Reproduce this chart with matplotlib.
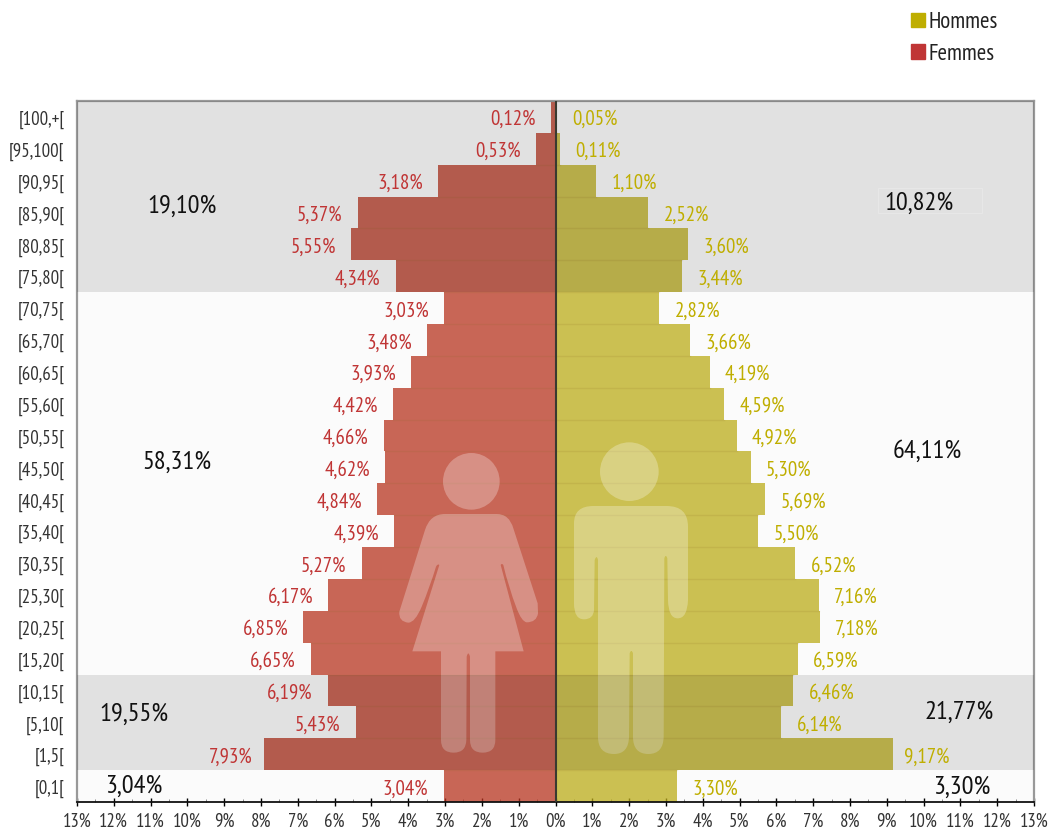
import matplotlib
matplotlib.use('Agg')
import logging
import matplotlib.pyplot as plt
from matplotlib.patches import Ellipse, Patch, PathPatch, Rectangle
from matplotlib.path import Path
from matplotlib.ticker import FuncFormatter, MultipleLocator
from matplotlib.transforms import ScaledTranslation

# narrow face if present, otherwise something that certainly is
logging.getLogger('matplotlib.font_manager').setLevel(logging.ERROR)
plt.rcParams['font.family'] = ['PT Sans Narrow', 'Roboto', 'DejaVu Sans']

ages = ['[0,1[', '[1,5[', '[5,10[', '[10,15[', '[15,20[', '[20,25[', '[25,30[', '[30,35[',
        '[35,40[', '[40,45[', '[45,50[', '[50,55[', '[55,60[', '[60,65[', '[65,70[', '[70,75[',
        '[75,80[', '[80,85[', '[85,90[', '[90,95[', '[95,100[', '[100,+[']
femmes = [3.04, 7.93, 5.43, 6.19, 6.65, 6.85, 6.17, 5.27, 4.39, 4.84, 4.62,
          4.66, 4.42, 3.93, 3.48, 3.03, 4.34, 5.55, 5.37, 3.18, 0.53, 0.12]
hommes = [3.30, 9.17, 6.14, 6.46, 6.59, 7.18, 7.16, 6.52, 5.50, 5.69, 5.30,
          4.92, 4.59, 4.19, 3.66, 2.82, 3.44, 3.60, 2.52, 1.10, 0.11, 0.05]
# age groups, as first/last row of each grey band
bands = [(1, 3), (16, 21)]
totals = ['19,10%', '10,82%', '58,31%', '64,11%', '19,55%', '21,77%', '3,04%', '3,30%']
totals_px = [(182, 206), (919, 203), (177, 462), (927, 451), (134, 714), (959, 712), (134, 786), (962, 787)]

RED = '#C03535'
YEL = '#BFAE00'
RED_BAR = '#B8341F'
YEL_BAR = '#BCAC1A'
W, H = 1048, 830
L, R, T, B = 77, 1034, 101, 802


def fmt(v):
    return f'{v:.2f}'.replace('.', ',') + '%'


def px(x, y):
    # picture pixels to data coords
    return (x - L) / (R - L) * 26 - 13, (B - y) / (B - T) * 22 - 0.5


def zoomed(x, y):
    # silhouettes were traced on a crop at (380,430), scale 3
    return px(380 + x / 3, 430 + y / 3)


def outline(cmds):
    verts, codes = [], []
    for c in cmds:
        if c[0] == 'M':
            verts.append(zoomed(c[1], c[2]))
            codes.append(Path.MOVETO)
        elif c[0] == 'L':
            verts.append(zoomed(c[1], c[2]))
            codes.append(Path.LINETO)
        else:
            verts += [zoomed(c[1], c[2]), zoomed(c[3], c[4])]
            codes += [Path.CURVE3, Path.CURVE3]
    verts.append(verts[0])
    codes.append(Path.CLOSEPOLY)
    return Path(verts, codes)


woman = [('M', 195, 252), ('L', 350, 252), ('Q', 388, 252, 400, 295), ('L', 473, 520), ('L', 474, 550),
         ('Q', 470, 577, 440, 577), ('Q', 425, 575, 410, 535), ('Q', 385, 470, 370, 405), ('Q', 365, 398, 362, 405),
         ('L', 431, 664), ('L', 346, 664), ('L', 346, 930), ('Q', 346, 968, 308, 968), ('Q', 270, 968, 270, 930),
         ('L', 270, 680), ('Q', 265, 660, 260, 680), ('L', 259, 930), ('Q', 258, 968, 221, 968),
         ('Q', 183, 968, 183, 930), ('L', 183, 664), ('L', 97, 664), ('L', 178, 405), ('Q', 173, 400, 168, 410),
         ('Q', 150, 470, 125, 530), ('Q', 105, 578, 85, 578), ('Q', 55, 575, 58, 545), ('L', 135, 300),
         ('Q', 150, 252, 195, 252)]
man = [('M', 640, 228), ('L', 860, 228), ('Q', 924, 228, 924, 290), ('L', 924, 510), ('Q', 922, 565, 893, 565),
       ('Q', 865, 565, 864, 510), ('L', 862, 385), ('Q', 857, 370, 853, 385), ('L', 851, 920),
       ('Q', 850, 972, 805, 972), ('Q', 759, 972, 759, 920), ('L', 759, 670), ('Q', 754, 655, 749, 670),
       ('L', 747, 920), ('Q', 746, 972, 702, 972), ('Q', 654, 972, 654, 920), ('L', 654, 390),
       ('Q', 650, 372, 644, 390), ('L', 642, 540), ('Q', 640, 568, 612, 568), ('Q', 582, 568, 582, 520),
       ('L', 582, 280), ('Q', 582, 228, 640, 228)]

fig = plt.figure(figsize=(W / 100, H / 100), dpi=100)
ax = fig.add_axes([L / W, 1 - B / H, (R - L) / W, (B - T) / H])
ax.set_facecolor('#FBFBFB')
ax.set_xlim(-13, 13)
ax.set_ylim(-0.5, 21.5)

rows = list(range(len(ages)))
ax.barh(rows, [-v for v in femmes], height=1, color=RED_BAR, alpha=0.75, linewidth=0, zorder=2)
ax.barh(rows, hommes, height=1, color=YEL_BAR, alpha=0.75, linewidth=0, zorder=2)
# faint darker line between rows
for i in rows[1:]:
    ax.plot([-min(femmes[i], femmes[i - 1]), min(hommes[i], hommes[i - 1])], [i - 0.5, i - 0.5],
            color='#8A6A20', alpha=0.13, linewidth=1, zorder=2.5)

for cmds in (woman, man):
    ax.add_patch(PathPatch(outline(cmds), fc='white', ec='none', alpha=0.28, zorder=3))
for cx, cy, rad in ((274, 154, 85), (748, 125, 88)):
    x0, y0 = zoomed(cx, cy)
    x1, y1 = zoomed(cx + rad, cy + rad)
    ax.add_patch(Ellipse((x0, y0), 2 * (x1 - x0), 2 * (y0 - y1), fc='white', ec='none', alpha=0.28, zorder=3))

# grey bands sit on top of the bars
for a, b in bands:
    ax.axhspan(a - 0.5, b + 0.5, color='black', alpha=0.1, linewidth=0, zorder=4)

ax.axvline(0, color='#3A3A30', linewidth=1.5, zorder=5)

for i in rows:
    off = 8 if femmes[i] == max(femmes) else 11
    ax.annotate(fmt(femmes[i]), (-femmes[i], i), xytext=(-off, -2), textcoords='offset points',
                ha='right', va='center', color=RED, fontsize=15, zorder=6)
    off = 8 if hommes[i] == max(hommes) else 11
    ax.annotate(fmt(hommes[i]), (hommes[i], i), xytext=(off, -2), textcoords='offset points',
                ha='left', va='center', color=YEL, fontsize=15, zorder=6)

for s, (x, y) in zip(totals, totals_px):
    ax.text(*px(x, y), s, ha='center', va='center', fontsize=19, color='#111111', zorder=6)

# faint box around the 10,82% label
x0, y0 = px(878, 213)
x1, y1 = px(982, 188)
ax.add_patch(Rectangle((x0, y0), x1 - x0, y1 - y0, fc='none', ec='#E8E8E8', linewidth=0.7, zorder=5))

ax.set_yticks(rows)
ax.set_yticklabels(ages, fontsize=13.5, color='#333333')
ax.tick_params(axis='y', length=0, pad=9)
for lab in ax.get_yticklabels():
    lab.set_transform(lab.get_transform() + ScaledTranslation(0, -1 / 100, fig.dpi_scale_trans))
ax.xaxis.set_major_locator(MultipleLocator(1))
ax.xaxis.set_minor_locator(MultipleLocator(0.5))
ax.xaxis.set_major_formatter(FuncFormatter(lambda v, p: f'{abs(v):.0f}%'))
ax.tick_params(axis='x', which='major', direction='inout', length=6, width=1, labelsize=13.5,
               labelcolor='#333333', pad=5)
ax.tick_params(axis='x', which='minor', direction='in', length=2, width=0.6, color='#777777')
for side in ('left', 'top', 'right'):
    ax.spines[side].set_color('#999999')
    ax.spines[side].set_linewidth(1.6)
ax.spines['bottom'].set_color('#111111')
ax.spines['bottom'].set_linewidth(1.3)

fig.legend(handles=[Patch(color=YEL, label='Hommes'), Patch(color=RED, label='Femmes')],
           loc='upper left', bbox_to_anchor=(893 / W, 1 + 6 / H), frameon=False, fontsize=16.5,
           handlelength=0.58, handleheight=0.58, handletextpad=0.17, labelspacing=0.45, borderpad=0.3,
           labelcolor='#222222')

fig.savefig('out.png', dpi=100)
